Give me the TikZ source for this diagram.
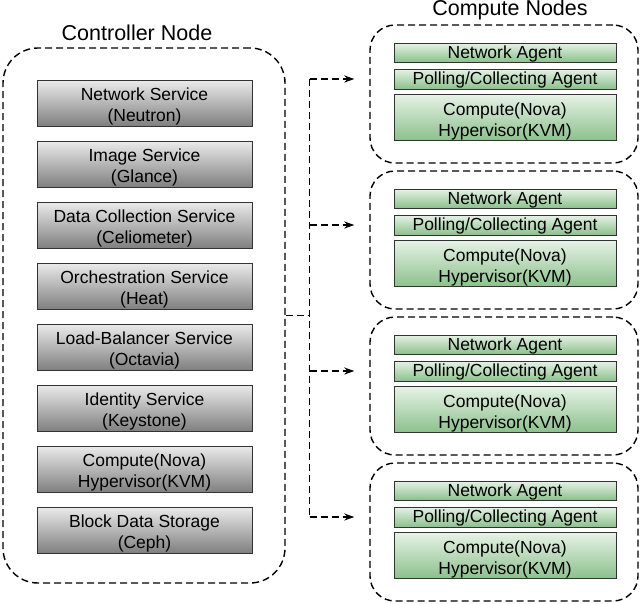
\documentclass[tikz,border=0pt]{standalone}
\usepackage{fontspec}
\setmainfont{Liberation Sans}
\usetikzlibrary{shapes.misc,arrows.meta}

\tikzset{
  groupbox/.style={draw=black, line width=1.4pt, dash pattern=on 7pt off 4pt},
  cutbox/.style={chamfered rectangle, chamfered rectangle corners=north east,
    chamfered rectangle xsep=6pt, chamfered rectangle ysep=5pt,
    draw=black!80, line width=0.9pt, inner sep=0pt},
  servicebox/.style={cutbox, top color=black!8, bottom color=black!50,
    minimum width=215pt, minimum height=46pt},
  agentbox/.style={cutbox, top color=green!50!black!10!white, bottom color=green!45!black!45!white,
    minimum width=222pt},
  boxtext/.style={align=center, inner sep=0pt, font=\fontsize{17.5}{21}\selectfont},
  conn/.style={line width=1.4pt, dash pattern=on 7pt off 4pt},
  title/.style={font=\fontsize{21.5}{25}\selectfont}
}

\begin{document}
\begin{tikzpicture}[x=1pt,y=-1pt]
    \useasboundingbox (0,0) rectangle (640,603);

    % controller side
    \node[title] (ctrltitle) at (137,33) {Controller Node};
    \node[groupbox, rounded corners=35pt, minimum width=282pt, minimum height=535pt] (ctrl) at (144,315.5) {};
    \foreach \txt [count=\i] in {{Network Service\\(Neutron)}, {Image Service\\(Glance)},
        {Data Collection Service\\(Celiometer)}, {Orchestration Service\\(Heat)},
        {Load-Balancer Service\\(Octavia)}, {Identity Service\\(Keystone)},
        {Compute(Nova)\\Hypervisor(KVM)}, {Block Data Storage\\(Ceph)}} {
        \node[servicebox] (svc\i) at (144.5,42+61*\i) {};
        \node[boxtext] (svctext\i) at (144.5,45+61*\i) {\txt};
    }

    % compute side
    \node[title] (comptitle) at (510,10) {Compute Nodes};
    \foreach \t [count=\i] in {25,171,317,463} {
        \node[groupbox, rounded corners=25pt, minimum width=268pt, minimum height=138pt] (comp\i) at (504,\t+69) {};
        \node[agentbox, minimum height=19pt] (net\i) at (505,\t+27.5) {};
        \node[boxtext] (nettext\i) at (505,\t+28.5) {Network Agent};
        \node[agentbox, minimum height=20pt] (poll\i) at (505,\t+54) {};
        \node[boxtext] (polltext\i) at (505,\t+55) {Polling/Collecting Agent};
        \node[agentbox, minimum height=46pt] (hyp\i) at (505,\t+92.5) {};
        \node[boxtext] (hyptext\i) at (505,\t+96) {Compute(Nova)\\Hypervisor(KVM)};
    }

    % links
    \draw[conn] (ctrl.east) -- ++(24,0) coordinate (bus);
    \draw[conn] (bus |- poll1) -- (bus |- poll4);
    \foreach \i in {1,...,4}
        \draw[conn, -{Stealth[length=10pt,width=7pt]}, shorten >=15pt] (bus |- poll\i) -- (poll\i -| comp\i.west);
\end{tikzpicture}
\end{document}
